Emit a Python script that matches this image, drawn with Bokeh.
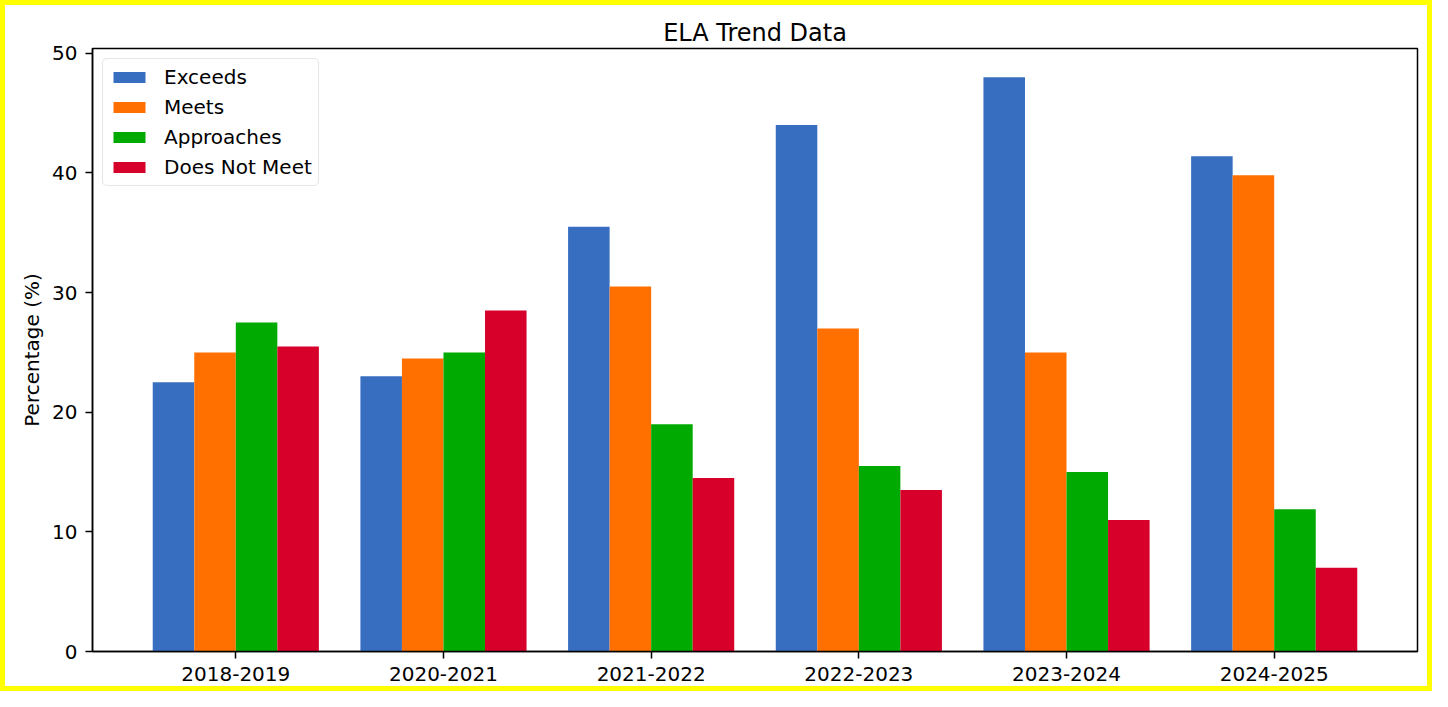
from bokeh.plotting import figure
from bokeh.models import Range1d, FixedTicker, ColumnDataSource, Legend, LegendItem
from bokeh.transform import dodge
from bokeh.embed import file_html
from bokeh.resources import INLINE

# ---- data ----
years = ["2018-2019", "2020-2021", "2021-2022", "2022-2023", "2023-2024", "2024-2025"]
exceeds = [22.5, 23.0, 35.5, 44.0, 48.0, 41.4]
meets = [25.0, 24.5, 30.5, 27.0, 25.0, 39.8]
approaches = [27.5, 25.0, 19.0, 15.5, 15.0, 11.9]
does_not_meet = [25.5, 28.5, 14.5, 13.5, 11.0, 7.0]
series_names = ["Exceeds", "Meets", "Approaches", "Does Not Meet"]
y_ticks = [0, 10, 20, 30, 40, 50]

colors = ["#386EC0", "#FF7000", "#00AA00", "#D6002A"]
FONT = "DejaVu Sans"

source = ColumnDataSource(data=dict(
    idx=list(range(len(years))),
    year=years,
    exceeds=exceeds,
    meets=meets,
    approaches=approaches,
    dnm=does_not_meet,
))
cols = ["exceeds", "meets", "approaches", "dnm"]
offsets = [-0.3, -0.1, 0.1, 0.3]
bar_w = 0.2

p = figure(width=1432, height=691, output_backend="svg", toolbar_location=None,
           x_range=Range1d(-0.69, 5.69), y_range=Range1d(0, 50.4),
           title="ELA Trend Data",
           min_border_left=92, min_border_right=15, min_border_top=48, min_border_bottom=40)

p.border_fill_color = None
p.background_fill_color = "white"
p.styles = {"box-shadow": "inset 0 0 0 5px #FFFF00", "background-color": "white"}

renderers = []
for c, off, col in zip(cols, offsets, colors):
    r = p.vbar(x=dodge("idx", off, range=p.x_range), top=c, width=bar_w, bottom=0,
               source=source, fill_color=col, line_color=None)
    renderers.append(r)

# title
p.title.text_font = FONT
p.title.text_font_size = "24px"
p.title.text_font_style = "normal"
p.title.align = "center"
p.title.text_color = "black"
p.title.standoff = 4

# axes
p.xgrid.visible = False
p.ygrid.visible = False
p.outline_line_color = "black"
p.outline_line_width = 1.5
p.outline_line_alpha = 1.0

p.xaxis.ticker = FixedTicker(ticks=list(range(len(years))))
p.xaxis.major_label_overrides = {i: y for i, y in enumerate(years)}
p.yaxis.ticker = FixedTicker(ticks=y_ticks)

for ax in (p.xaxis[0], p.yaxis[0]):
    ax.axis_line_color = "black"
    ax.axis_line_width = 1.5
    ax.major_tick_in = 0
    ax.major_tick_out = 7
    ax.major_tick_line_width = 1.5
    ax.major_tick_line_color = "black"
    ax.minor_tick_line_color = None
    ax.major_label_text_font = FONT
    ax.major_label_text_font_size = "20px"
    ax.major_label_text_color = "black"

p.xaxis.major_label_standoff = 8
p.yaxis.major_label_standoff = 8

p.yaxis.axis_label = "Percentage (%)"
p.yaxis.axis_label_text_font = FONT
p.yaxis.axis_label_text_font_size = "20px"
p.yaxis.axis_label_text_font_style = "normal"
p.yaxis.axis_label_text_color = "black"
p.yaxis.axis_label_standoff = 5

# legend
legend = Legend(items=[LegendItem(label=n, renderers=[r]) for n, r in zip(series_names, renderers)],
                location="top_left")
legend.label_text_font = FONT
legend.label_text_font_size = "20px"
legend.label_text_color = "black"
legend.glyph_width = 40
legend.glyph_height = 14
legend.label_height = 20
legend.label_standoff = 15
legend.spacing = 6
legend.padding = 6
legend.margin = 10
legend.border_line_color = "#cccccc"
legend.border_line_width = 1.5
legend.background_fill_color = "white"
legend.background_fill_alpha = 0.8
if "border_radius" in legend.properties():
    legend.border_radius = 5
p.add_layout(legend)

open("out.html", "w").write(file_html(p, INLINE))
